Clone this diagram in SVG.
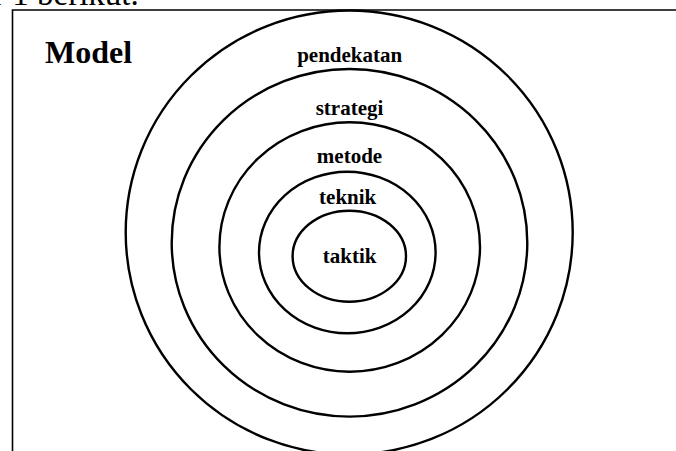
<svg xmlns="http://www.w3.org/2000/svg" width="676" height="451" viewBox="0 0 676 451">
<style>
.ring{fill:none;stroke:#000;stroke-width:2.4}
.lbl{font-family:"Liberation Serif","Times New Roman",serif;font-weight:bold;font-size:21px;text-anchor:middle;fill:#000}
.frame{fill:none;stroke:#000;stroke-width:1.6}
</style>
<rect width="676" height="451" fill="#fff"/>
<text x="-7" y="5" font-family="Liberation Serif, serif" font-size="33" fill="#000">r 1 berikut.</text>
<polyline class="frame" points="12.5,452 12.5,10 677,10"/>
<text x="45" y="63" font-family="Liberation Serif, serif" font-weight="bold" font-size="32" fill="#000">Model</text>
<g id="pendekatan">
<ellipse class="ring" cx="349.2" cy="232.5" rx="223.5" ry="222"/>
<text class="lbl" x="349.7" y="61.5">pendekatan</text>
</g>
<g id="strategi">
<ellipse class="ring" cx="349.5" cy="242.8" rx="177.8" ry="173.8"/>
<text class="lbl" x="349.5" y="115">strategi</text>
</g>
<g id="metode">
<ellipse class="ring" cx="349.7" cy="247" rx="130.3" ry="124.7"/>
<text class="lbl" x="349.5" y="162.5">metode</text>
</g>
<g id="teknik">
<ellipse class="ring" cx="347.3" cy="252.5" rx="88.3" ry="80.8"/>
<text class="lbl" x="347.7" y="204">teknik</text>
</g>
<g id="taktik">
<ellipse class="ring" cx="349.3" cy="256.2" rx="56.7" ry="45.5"/>
<text class="lbl" x="349.7" y="262.5">taktik</text>
</g>
<g id="connectors"></g>
</svg>
